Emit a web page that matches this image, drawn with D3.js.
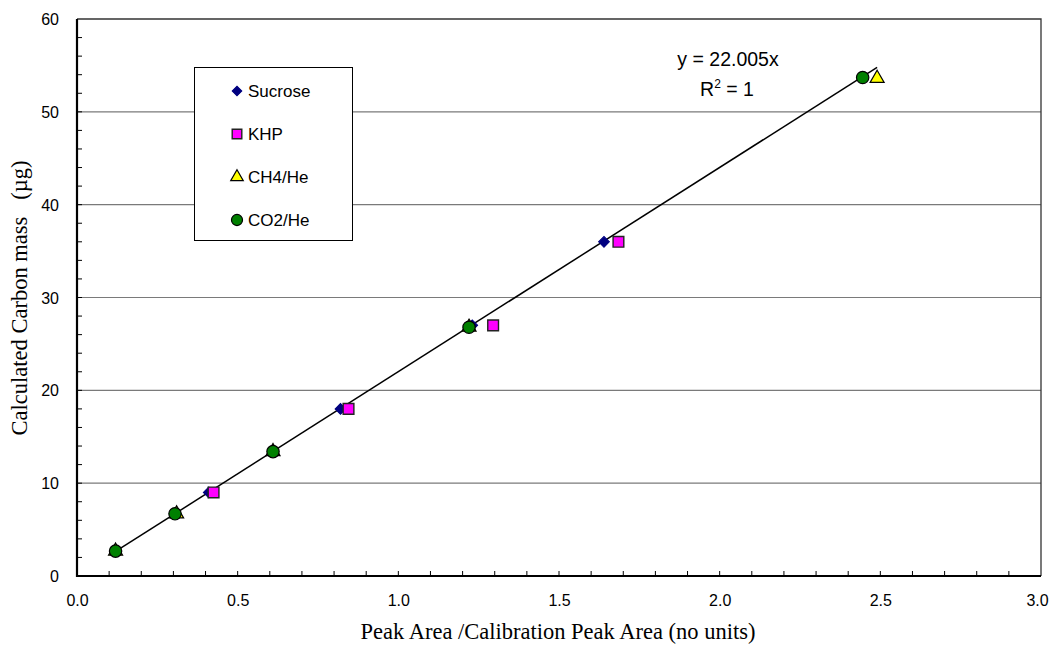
<!DOCTYPE html>
<html>
<head>
<meta charset="utf-8">
<script src="https://cdn.jsdelivr.net/npm/d3@7"></script>
<style>
  body { margin: 0; background: #fff; }
  svg { display: block; }
</style>
</head>
<body>
<div id="chart"></div>
<script>
// values
var seriesNames = ["Sucrose", "KHP", "CH4/He", "CO2/He"];
var sucroseX = [0.41, 0.82, 1.23, 1.64];
var sucroseY = [9, 18, 27, 36];
var khpX = [0.425, 0.845, 1.295, 1.685];
var khpY = [9, 18, 27, 36];
var ch4X = [0.12, 0.31, 0.61, 1.22, 2.49];
var ch4Y = [2.68, 6.7, 13.4, 26.8, 53.6];
var co2X = [0.12, 0.305, 0.61, 1.22, 2.445];
var co2Y = [2.68, 6.7, 13.4, 26.8, 53.7];
var slope = 22.005;
var xTicks = [0, 0.5, 1, 1.5, 2, 2.5, 3];
var yTicks = [0, 10, 20, 30, 40, 50, 60];

(function() {
  var width = 1051, height = 646;
  var mLeft = 77, mRight = 1041, mTop = 19, mBottom = 576;

  var x = d3.scaleLinear().domain([0, 3]).range([mLeft, mRight]);
  var y = d3.scaleLinear().domain([0, 60]).range([mBottom, mTop]);

  var svg = d3.select("#chart").append("svg")
      .attr("width", width)
      .attr("height", height);

  // gridlines
  svg.append("g").selectAll("line")
      .data(yTicks.filter(function(d) { return d > 0 && d < 60; }))
    .enter().append("line")
      .attr("x1", mLeft).attr("x2", mRight)
      .attr("y1", function(d) { return y(d); })
      .attr("y2", function(d) { return y(d); })
      .attr("stroke", "#7a7a7a")
      .attr("stroke-width", 1.2);

  // top / right frame
  svg.append("path")
      .attr("d", "M" + mLeft + "," + mTop + "H" + mRight + "V" + mBottom)
      .attr("fill", "none")
      .attr("stroke", "#333")
      .attr("stroke-width", 1.3);

  // axes
  var xAxis = d3.axisBottom(x).tickValues(xTicks).tickFormat(d3.format(".1f")).tickSize(0).tickPadding(19);
  var yAxis = d3.axisLeft(y).tickValues(yTicks).tickSize(0).tickPadding(18);

  var gx = svg.append("g").attr("transform", "translate(0," + mBottom + ")").call(xAxis);
  var gy = svg.append("g").attr("transform", "translate(" + mLeft + ",0)").call(yAxis);
  [gx, gy].forEach(function(g) {
    g.select(".domain").remove();
    g.selectAll("text")
        .attr("font-family", "Liberation Sans, Arial, sans-serif")
        .attr("font-size", 16)
        .attr("fill", "#000");
  });
  gy.selectAll("text").attr("dy", "0.35em");
  // keep the last label inside the picture
  gx.selectAll("text").filter(function(d) { return d === 3; }).attr("dx", -4);

  // inward minor ticks
  svg.append("g").selectAll("line")
      .data(d3.range(1, 30))
    .enter().append("line")
      .attr("x1", function(d) { return x(d / 10); })
      .attr("x2", function(d) { return x(d / 10); })
      .attr("y1", mBottom).attr("y2", mBottom - 5)
      .attr("stroke", "#000");
  svg.append("g").selectAll("line")
      .data(d3.range(1, 30))
    .enter().append("line")
      .attr("y1", function(d) { return y(d * 2); })
      .attr("y2", function(d) { return y(d * 2); })
      .attr("x1", mLeft).attr("x2", mLeft + 5)
      .attr("stroke", "#000");

  svg.append("path")
      .attr("d", "M" + mLeft + "," + mTop + "V" + mBottom + "H" + mRight)
      .attr("fill", "none")
      .attr("stroke", "#000")
      .attr("stroke-width", 2.2);

  // axis titles
  svg.append("text")
      .attr("x", 558).attr("y", 639)
      .attr("text-anchor", "middle")
      .attr("font-family", "Liberation Serif, Times New Roman, serif")
      .attr("font-size", 22.5)
      .text("Peak Area /Calibration Peak Area (no units)");
  svg.append("text")
      .attr("transform", "translate(27,298) rotate(-90)")
      .attr("text-anchor", "middle")
      .attr("font-family", "Liberation Serif, Times New Roman, serif")
      .attr("font-size", 22.5)
      .attr("xml:space", "preserve")
      .text("Calculated Carbon mass   (\u00b5g)");

  // trendline across the data range
  var allX = sucroseX.concat(khpX, ch4X, co2X);
  var xr = d3.extent(allX);
  svg.append("line")
      .attr("x1", x(xr[0])).attr("y1", y(slope * xr[0]))
      .attr("x2", x(xr[1])).attr("y2", y(slope * xr[1]))
      .attr("stroke", "#000")
      .attr("stroke-width", 1.5);

  // markers
  var symbols = [
    { type: d3.symbolSquare, size: 58, rot: 45, fill: "#000080", stroke: "#000080", sw: 1 },
    { type: d3.symbolSquare, size: 115, rot: 0, fill: "#ff00ff", stroke: "#222", sw: 1.4 },
    { type: d3.symbolTriangle, size: 85, rot: 0, fill: "#ffff00", stroke: "#000", sw: 1.2 },
    { type: d3.symbolCircle, size: 120, rot: 0, fill: "#008000", stroke: "#000", sw: 1.2 }
  ];
  var seriesData = [
    d3.zip(sucroseX, sucroseY),
    d3.zip(khpX, khpY),
    d3.zip(ch4X, ch4Y),
    d3.zip(co2X, co2Y)
  ];

  seriesData.forEach(function(pts, i) {
    var s = symbols[i];
    svg.append("g").selectAll("path")
        .data(pts)
      .enter().append("path")
        .attr("transform", function(d) {
          return "translate(" + x(d[0]) + "," + y(d[1]) + ") rotate(" + s.rot + ")";
        })
        .attr("d", d3.symbol().type(s.type).size(s.size))
        .attr("fill", s.fill)
        .attr("stroke", s.stroke)
        .attr("stroke-width", s.sw);
  });

  // legend
  var legend = svg.append("g");
  legend.append("rect")
      .attr("x", 194.5).attr("y", 67.5)
      .attr("width", 158).attr("height", 173)
      .attr("fill", "#fff")
      .attr("stroke", "#000");
  var rows = legend.selectAll("g.row")
      .data(seriesNames)
    .enter().append("g")
      .attr("transform", function(d, i) { return "translate(237," + (91 + i * 43) + ")"; });
  rows.append("path")
      .attr("transform", function(d, i) { return "rotate(" + symbols[i].rot + ")"; })
      .attr("d", function(d, i) { return d3.symbol().type(symbols[i].type).size(symbols[i].size * 0.8)(); })
      .attr("fill", function(d, i) { return symbols[i].fill; })
      .attr("stroke", function(d, i) { return symbols[i].stroke; })
      .attr("stroke-width", function(d, i) { return symbols[i].sw; });
  rows.append("text")
      .attr("x", 11).attr("dy", "0.36em")
      .attr("font-family", "Liberation Sans, Arial, sans-serif")
      .attr("font-size", 17)
      .text(function(d) { return d; });

  // equation label
  var eq = svg.append("g").attr("font-family", "Liberation Sans, Arial, sans-serif").attr("font-size", 19.5);
  eq.append("text").attr("x", 728).attr("y", 66).attr("text-anchor", "middle").text("y = 22.005x");
  var r2 = eq.append("text").attr("x", 727).attr("y", 96).attr("text-anchor", "middle");
  r2.append("tspan").text("R");
  r2.append("tspan").attr("dy", -8).attr("font-size", 12).text("2");
  r2.append("tspan").attr("dy", 8).text(" = 1");
})();
</script>
</body>
</html>
